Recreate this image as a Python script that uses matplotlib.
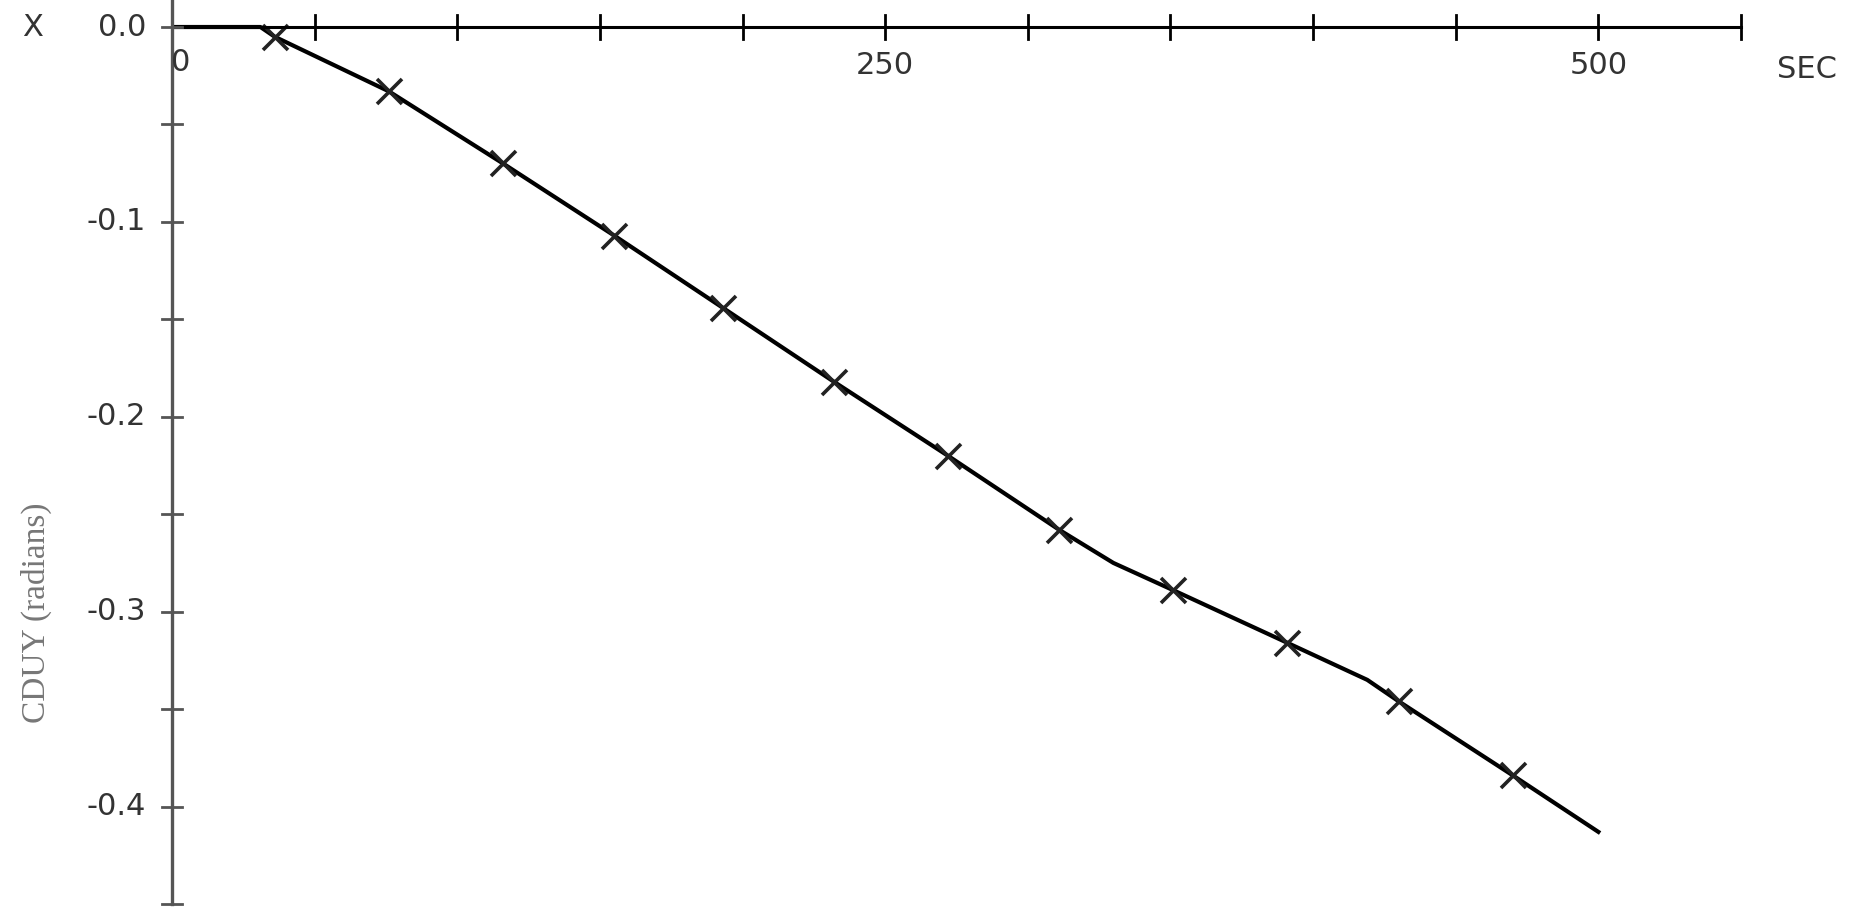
import numpy as np
import matplotlib.pyplot as plt

# valores (segundos, radianes)
t_marcas = [36, 76, 116, 155, 193, 232, 272, 311, 351, 391, 430, 470]
cduy_marcas = [-0.005, -0.033, -0.070, -0.107, -0.144, -0.182, -0.220, -0.258,
               -0.289, -0.316, -0.346, -0.384]

t_curva = [0, 31, 36, 76, 116, 155, 193, 232, 272, 311, 330, 351, 391, 419, 430, 470, 500]
cduy_curva = [0.0, 0.0, -0.005, -0.033, -0.070, -0.107, -0.144, -0.182, -0.220, -0.258,
              -0.275, -0.289, -0.316, -0.335, -0.346, -0.384, -0.413]

xticks = np.arange(50, 551, 50)
yticks = np.arange(-0.45, 0.001, 0.05)
xlabels = {250: '250', 500: '500'}
ylabels = {0.0: '0.0', -0.1: '-0.1', -0.2: '-0.2', -0.3: '-0.3', -0.4: '-0.4'}

W, H = 1859, 915
fig = plt.figure(figsize=(W / 100, H / 100), dpi=100)

# ejes: x=0 en px 172, x=550 en px 1741; y=0 en px 27, y=-0.45 en px 904
x0, x1 = 172, 1741
ytop, ybot = 27, 904
ymax = 0.014
ymin = -0.45
pad_top = ymax * (ybot - ytop) / (0 - ymin)
ax = fig.add_axes([x0 / W, 1 - ybot / H, (x1 - x0 + 10) / W, (ybot - ytop + pad_top) / H])
ax.set_xlim(0, 550 + 10 * 550 / (x1 - x0))
ax.set_ylim(ymin, ymax)

ax.plot(t_curva, cduy_curva, color='black', lw=3.0)
ax.plot(t_marcas, cduy_marcas, 'x', color='#222222', ms=18, mew=2.6)

for s in ['top', 'right', 'bottom']:
    ax.spines[s].set_visible(False)
ax.spines['left'].set_position(('data', 0))
ax.spines['left'].set_linewidth(2.4)
ax.spines['left'].set_color('#555555')
ax.axhline(0, xmin=0, xmax=550 / ax.get_xlim()[1], color='black', lw=2.2)

ax.set_xticks([])
ax.set_yticks([])

# marcas de escala cruzando los ejes
for t in xticks:
    ax.plot([t, t], [-0.006, 0.006], color='black', lw=2.0, clip_on=False)
for v in yticks:
    ax.plot([-3.5, 3.5], [v, v], color='#555555', lw=2.0, clip_on=False)

fuente = dict(family='DejaVu Sans', fontsize=22, color='#333333')
for t, lab in xlabels.items():
    ax.text(t, -0.020, lab, ha='center', va='center', **fuente)
for v, lab in ylabels.items():
    ax.text(-9, v, lab, ha='right', va='center', clip_on=False, **fuente)

ax.text(3, -0.018, '0', ha='center', va='center', **fuente)
ax.text(-49, 0.0, 'X', ha='center', va='center', clip_on=False, **fuente)
ax.text(573, -0.022, 'SEC', ha='center', va='center', clip_on=False, **fuente)

fig.text(36 / W, 1 - 613 / H, 'CDUY (radians)', rotation=90, ha='center', va='center',
         family='Liberation Serif', fontsize=24, color='#777777')

fig.savefig('out.png', dpi=100, facecolor='white')
